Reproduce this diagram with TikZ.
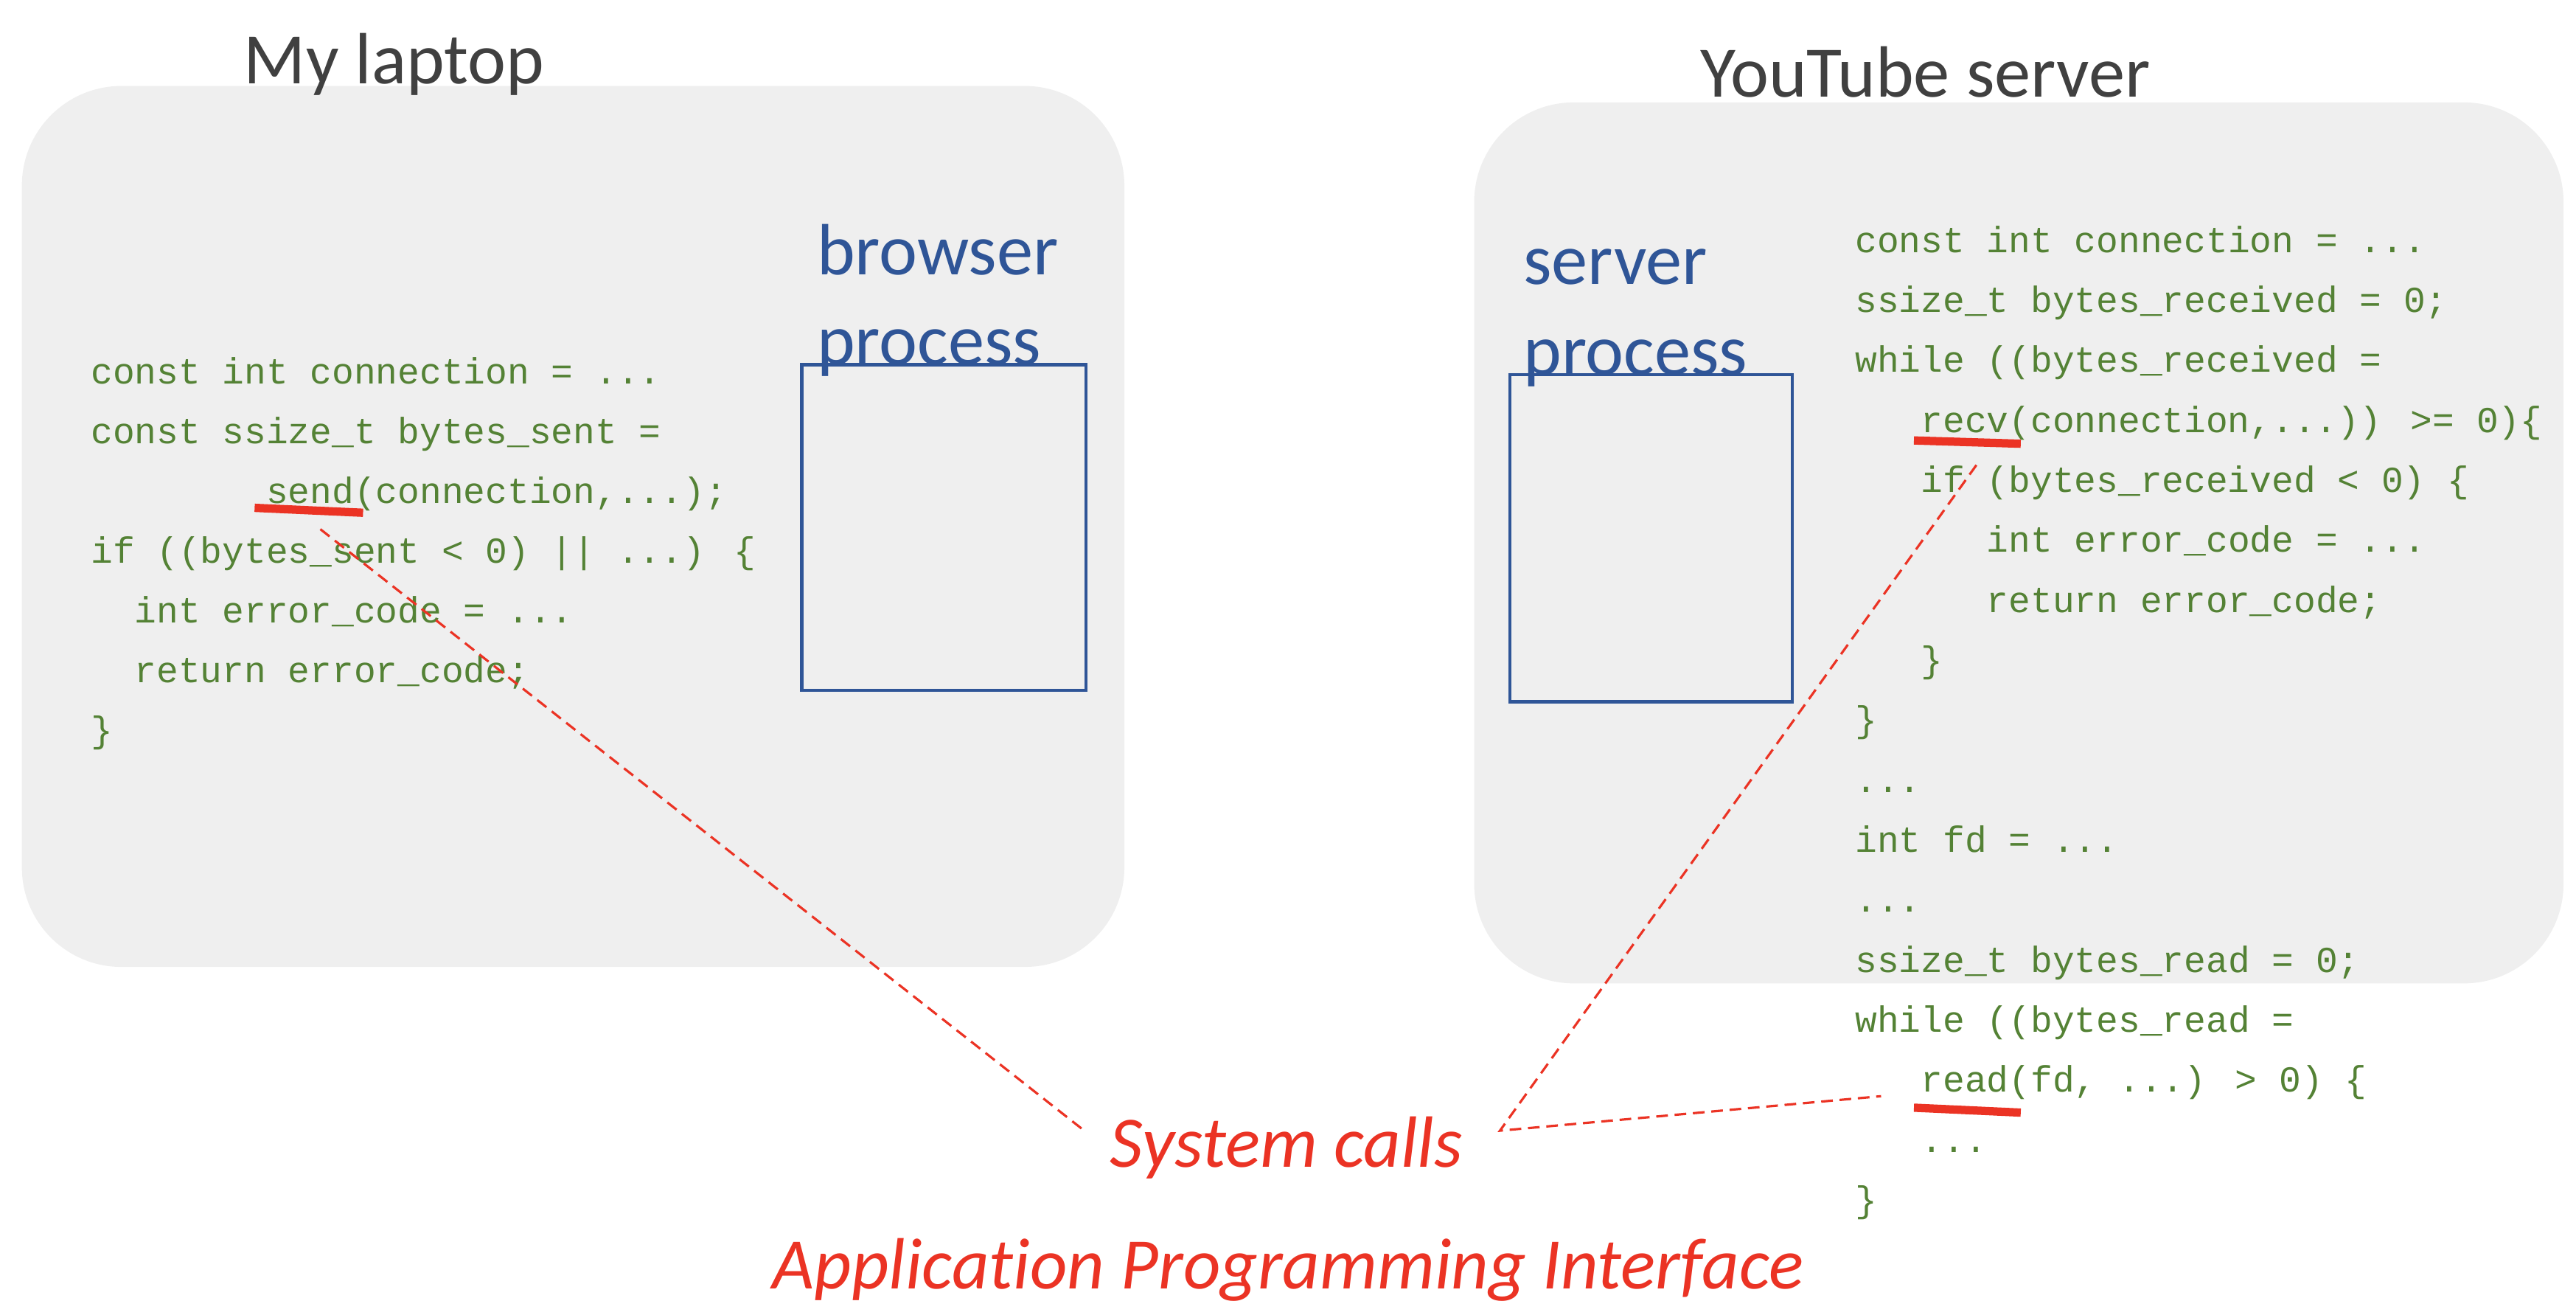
\documentclass[tikz,border=0pt]{standalone}
\usepackage{fontspec}
\setmainfont{Carlito}[Ligatures={TeX,NoCommon}]
\newfontfamily\codefont{Liberation Mono}
\definecolor{boxgray}{RGB}{239,239,239}
\definecolor{titlegray}{RGB}{64,64,64}
\definecolor{procblue}{RGB}{47,85,151}
\definecolor{codegreen}{RGB}{84,130,53}
\definecolor{sysred}{RGB}{235,51,36}
\begin{document}
\begin{tikzpicture}[x=0.02228cm, y=-0.02228cm,
  machine/.style={fill=boxgray, draw=none, rounded corners=1.35cm, anchor=north west, inner sep=0pt},
  procbox/.style={draw=procblue, line width=1.3pt, anchor=north west, inner sep=0pt},
  title/.style={text=titlegray, font=\fontsize{28}{34}\selectfont, anchor=base, inner sep=0pt},
  proc/.style={text=procblue, font=\fontsize{28}{34}\selectfont, anchor=base west, inner sep=0pt},
  code/.style={text=codegreen, font=\codefont\fontsize{14.1}{17}\selectfont, anchor=base west, inner sep=0pt},
  sysnote/.style={text=sysred, font=\fontsize{28}{34}\selectfont\itshape, anchor=base, inner sep=0pt},
  redmark/.style={draw=sysred, line width=3.2pt},
  call/.style={draw=sysred, line width=0.9pt, dash pattern=on 4.5pt off 2.6pt}
]
\useasboundingbox (0,0) rectangle (1568,800);

% machines
\node[machine, minimum width=14.950cm, minimum height=11.942cm] (laptop) at (13,52) {};
\node[machine, minimum width=14.772cm, minimum height=11.942cm] (server) at (897,62) {};
\node[title] (laptopT) at (240,51) {My laptop};
\node[title] (serverT) at (1172,59) {YouTube server};

% processes
\node[procbox, minimum width=3.854cm, minimum height=4.411cm] (bproc) at (487,221) {};
\node[procbox, minimum width=3.832cm, minimum height=4.434cm] (sproc) at (918,227) {};
\node[proc] (bp1) at (497,167) {browser};
\node[proc] (bp2) at (497,222) {process};
\node[proc] (sp1) at (927,173) {server};
\node[proc] (sp2) at (927,228) {process};

% left code
\node[code] (l1) at (55,233.5) {const int connection = ...};
\node[code] (l2) at (55,269.9) {const ssize\_t bytes\_sent =};
\node[code] (l3) at (161.8,306.3) {send(connection,...);};
\node[code] (l4) at (55,342.7) {if ((bytes\_sent < 0) || ...) \{};
\node[code] (l5) at (81.7,379.1) {int error\_code = ...};
\node[code] (l6) at (81.7,415.5) {return error\_code;};
\node[code] (l7) at (55,451.9) {\}};

% right code
\node[code] (r1) at (1129,153.5) {const int connection = ...};
\node[code] (r2) at (1129,190) {ssize\_t bytes\_received = 0;};
\node[code] (r3) at (1129,226.5) {while ((bytes\_received =};
\node[code] (r4) at (1169,263) {recv(connection,...)) >= 0)\{};
\node[code] (r5) at (1169,299.5) {if (bytes\_received < 0) \{};
\node[code] (r6) at (1209.1,336) {int error\_code = ...};
\node[code] (r7) at (1209.1,372.5) {return error\_code;};
\node[code] (r8) at (1169,409) {\}};
\node[code] (r9) at (1129,445.5) {\}};
\node[code] (r10) at (1129,482) {...};
\node[code] (r11) at (1129,518.5) {int fd = ...};
\node[code] (r12) at (1129,555) {...};
\node[code] (r13) at (1129,591.5) {ssize\_t bytes\_read = 0;};
\node[code] (r14) at (1129,628) {while ((bytes\_read =};
\node[code] (r15) at (1169,664.5) {read(fd, ...) > 0) \{};
\node[code] (r16) at (1169,701) {...};
\node[code] (r17) at (1129,737.5) {\}};

% red labels
\node[sysnote] (sys) at (783,710) {System calls};
\node[sysnote] (api) at (784,784) {Application Programming Interface};

% underline marks
\coordinate (sendA) at (155,309); \coordinate (sendB) at (221,312);
\coordinate (recvA) at (1165,268); \coordinate (recvB) at (1230,270);
\coordinate (readA) at (1165,674); \coordinate (readB) at (1230,677);
\draw[redmark] (sendA) -- (sendB);
\draw[redmark] (recvA) -- (recvB);
\draw[redmark] (readA) -- (readB);

% connectors
\coordinate (sendE) at (195,322);
\coordinate (recvE) at (1203,283);
\coordinate (readE) at (1145,667);
\coordinate (sysL) at (660,688);
\coordinate (sysR) at (913,688);
\draw[call] (sendE) -- (sysL);
\draw[call] (recvE) -- (sysR) -- (readE);
\end{tikzpicture}
\end{document}
